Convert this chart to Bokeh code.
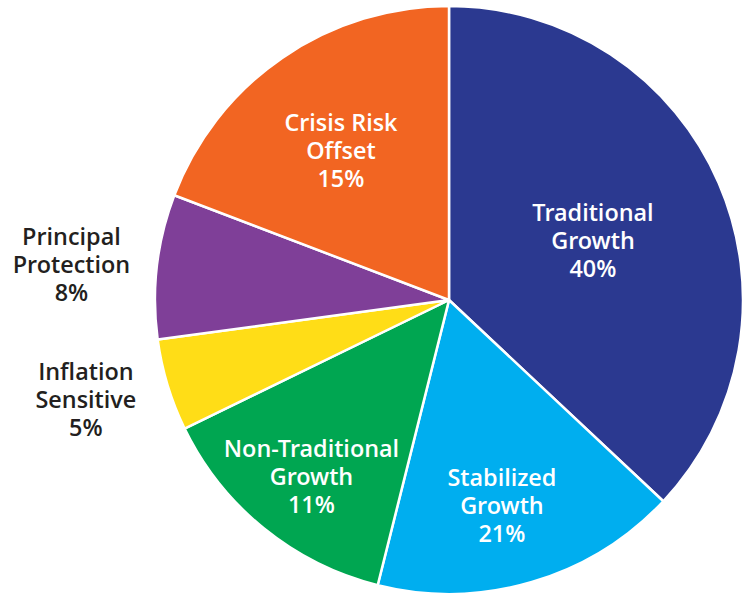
import numpy as np
from bokeh.plotting import figure
from bokeh.models import ColumnDataSource, Range1d
from bokeh.core.properties import value
from bokeh.embed import file_html
from bokeh.resources import INLINE

# ---- data ----
categories = ["Traditional\nGrowth", "Stabilized\nGrowth", "Non-Traditional\nGrowth",
              "Inflation\nSensitive", "Principal\nProtection", "Crisis Risk\nOffset"]
label_pcts = ["40%", "21%", "11%", "5%", "8%", "15%"]
slice_shares = [37.0, 16.9, 13.9, 5.05, 7.95, 19.2]
colors = ["#2B3990", "#00AEEF", "#00A651", "#FFDD17", "#7F3F98", "#F26522"]
label_colors = ["white", "white", "white", "#231F20", "#231F20", "white"]

# ---- layout ----
W, H = 751, 594
CX, CY, R = 448.5, 294.5, 294.0
label_radius_frac = [0.53, 0.72, 0.76, 1.28, 1.29, 0.63]
label_angle_shift_deg = [0.9, 1.9, -1.06, 1.63, -1.17, -1.14]  # clockwise
FONT_PX = 23.4
LINE_PX = 28.0

shares = np.array(slice_shares, dtype=float)
frac = shares / shares.sum()
cum = np.concatenate([[0.0], np.cumsum(frac)])
start = np.pi / 2 - 2 * np.pi * cum[:-1]
end = np.pi / 2 - 2 * np.pi * cum[1:]
mid = (start + end) / 2 - np.radians(label_angle_shift_deg)
lr = np.array(label_radius_frac) * R
lx = CX + lr * np.cos(mid)
ly = CY + lr * np.sin(mid)

src = ColumnDataSource(dict(
    start=start, end=end, color=colors,
    text=[c + "\n" + p for c, p in zip(categories, label_pcts)],
    lx=lx, ly=ly, tcolor=label_colors,
))

p = figure(width=W, height=H, x_range=Range1d(0, W), y_range=Range1d(0, H),
           output_backend="svg", toolbar_location=None, min_border=0)
p.axis.visible = False
p.grid.visible = False
p.outline_line_color = None
p.background_fill_color = "white"
p.border_fill_color = "white"

p.wedge(x=CX, y=CY, radius=R, start_angle="start", end_angle="end",
        direction="clock", fill_color="color", line_color="white",
        line_width=2.5, source=src)

p.text(x="lx", y="ly", text="text", source=src, text_color="tcolor",
       text_font=value("Open Sans SemiBold"), text_font_style="normal",
       text_font_size=f"{FONT_PX}px", text_align="center", text_baseline="middle",
       text_line_height=LINE_PX / (FONT_PX * 1.368))

open("out.html", "w").write(file_html(p, INLINE))
